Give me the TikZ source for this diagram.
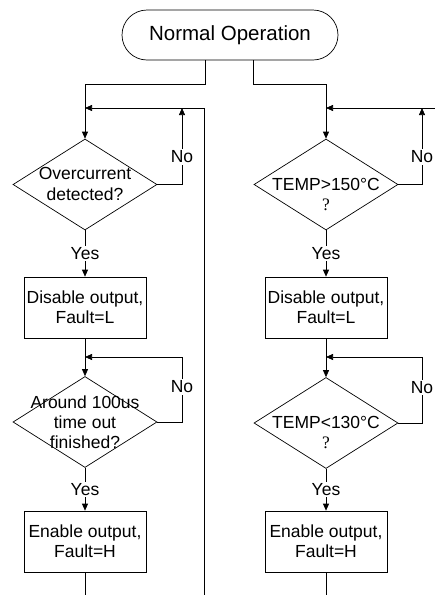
\documentclass[tikz,border=0pt]{standalone}
\usepackage{fontspec}
\setmainfont{Liberation Sans}
\newfontfamily\qfont{Liberation Serif}
\usetikzlibrary{arrows.meta,shapes.geometric}

\begin{document}
\begin{tikzpicture}[
  x=1pt, y=-1pt,
  font=\fontsize{17.5}{20}\selectfont,
  >={Triangle[length=7pt,width=6pt]},
  line width=0.7pt,
  every node/.style={align=center},
  term/.style={draw, rounded corners=25pt, minimum width=216pt, minimum height=50pt, font=\fontsize{20.5}{24}\selectfont},
  dec/.style={draw, diamond, minimum width=144pt, minimum height=91pt, inner sep=0pt},
  act/.style={draw, minimum width=122pt, minimum height=61pt, inner sep=2pt},
  lbl/.style={fill=white, inner sep=1.5pt},
  arr/.style={->}
]
\useasboundingbox (0,0) rectangle (435,595);

% start
\node[term] (normop) at (230,35) {Normal Operation};

% left column: overcurrent
\node[dec] (ocd) at (85,184.5) {};
\node (ocdtxt) at (85,184) {Overcurrent\\[1pt]detected?};
\node[act] (dis1) at (85,307.5) {Disable output,\\Fault=L};
\node[dec] (tmo) at (85,422) {};
\node (tmotxt) at (85,422) {Around 100us\\time out\\finished?};
\node[act] (en1) at (85,541.5) {Enable output,\\Fault=H};

% right column: temperature
\node[dec] (hot) at (326,184.5) {};
\node (hottxt) at (326,194.5) {TEMP>150°C\\{\qfont ?}};
\node[act] (dis2) at (326,307.5) {Disable output,\\Fault=L};
\node[dec] (cool) at (326,423) {};
\node (cooltxt) at (326,433) {TEMP<130°C\\{\qfont ?}};
\node[act] (en2) at (326,541.5) {Enable output,\\Fault=H};

% junctions and free ends
\coordinate (jl1) at (85,108);
\coordinate (jl2) at (85,357);
\coordinate (jr1) at (326,108);
\coordinate (jr2) at (326,357);
\coordinate (retl) at (204,595);
\coordinate (retr) at (435,108);

% split from start
\draw[arr] ([xshift=-25pt]normop.south) -- ++(0,24) -| (ocd.north);
\draw[arr] ([xshift=23pt]normop.south) -- ++(0,24) -| (hot.north);

% left loops
\draw[arr] (retl) |- (jl1);
\draw[arr] (ocd.east) -| node[lbl, pos=0.68] {No} ([xshift=97pt]jl1);
\draw[arr] (ocd.south) -- node[lbl] {Yes} (dis1.north);
\draw[arr] (dis1.south) -- (tmo.north);
\draw[arr] (tmo.east) -| node[lbl, pos=0.77] {No} ([xshift=97pt]jl2) -- (jl2);
\draw[arr] (tmo.south) -- node[lbl] {Yes} (en1.north);
\draw (en1.south) -- (en1.south |- retl);

% right loops
\draw[arr] (retr) -- (jr1);
\draw[arr] (hot.east) -| node[lbl, pos=0.68] {No} ([xshift=96pt]jr1);
\draw[arr] (hot.south) -- node[lbl] {Yes} (dis2.north);
\draw[arr] (dis2.south) -- (cool.north);
\draw[arr] (cool.east) -| node[lbl, pos=0.77] {No} ([xshift=96pt]jr2) -- (jr2);
\draw[arr] (cool.south) -- node[lbl] {Yes} (en2.north);
\draw (en2.south) -- (en2.south |- retl);
\end{tikzpicture}
\end{document}
